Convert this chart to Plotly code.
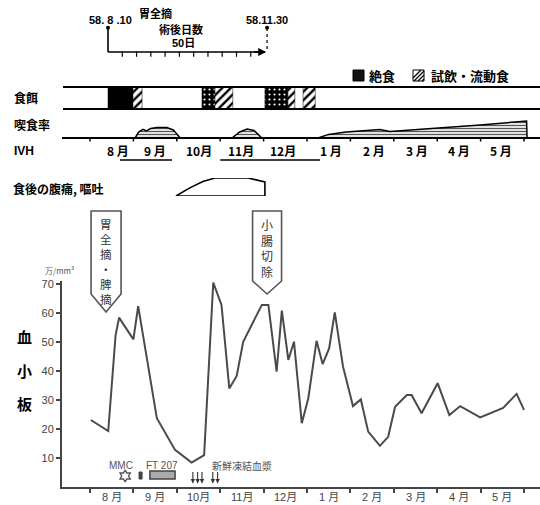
import plotly.graph_objects as go

# ---------------- data (x in months since 1 Aug 1983) ----------------
month_labels_main = ["8 月", "9 月", "10月", "11月", "12月", "1 月", "2 月", "3 月", "4 月", "5 月"]
month_labels_top = ["8 月", "9 月", "10月", "11月", "12月", "1 月", "2 月", "3 月", "4 月", "5 月"]

plt_x = [0.02, 0.42, 0.59, 0.67, 1.00, 1.11, 1.54, 1.96, 2.34, 2.63, 2.84, 3.03, 3.21, 3.38, 3.53,
         3.96, 4.11, 4.30, 4.42, 4.57, 4.70, 4.88, 5.03, 5.22, 5.36, 5.51, 5.64, 5.83, 6.06, 6.24,
         6.41, 6.68, 6.87, 7.03, 7.30, 7.41, 7.64, 8.01, 8.28, 8.53, 8.99, 9.52, 9.83, 10.0]
plt_y = [23.1, 19.3, 52.4, 58.4, 50.9, 62.4, 23.7, 12.8, 8.4, 11.0, 70.5, 62.8, 34.0, 38.3, 50.1,
         62.8, 62.8, 39.8, 60.8, 43.8, 50.1, 22.0, 30.6, 50.4, 42.4, 47.8, 60.2, 41.5, 27.9, 30.2,
         19.1, 14.2, 17.3, 27.7, 31.7, 31.7, 25.4, 35.8, 24.8, 27.9, 24.0, 27.3, 32.1, 26.6]

# intake rate (relative %)
intake1_x = [1.04, 1.12, 1.22, 1.30, 1.40, 1.54, 1.77, 1.92, 2.08]
intake1_y = [0, 30, 43, 35, 48, 52, 52, 40, 0]
intake2_x = [3.27, 3.45, 3.62, 3.78, 3.96]
intake2_y = [0, 30, 45, 38, 0]
intake3_x = [5.25, 5.50, 5.90, 6.30, 6.68, 6.91, 7.83, 8.99, 10.06, 10.07]
intake3_y = [0, 18, 30, 37, 42, 33, 47, 65, 85, 0]

# diet periods (start, end)
fast_solid = [(0.415, 0.99)]
fast_speckle = [(2.58, 2.88), (4.03, 4.56)]
liquid = [(0.99, 1.20), (2.88, 3.29), (4.56, 4.72), (4.91, 5.19)]

# IVH periods
ivh = [(0.69, 1.89), (3.00, 5.30)]

# post-prandial pain / vomiting (relative intensity)
sym_x = [1.98, 2.30, 2.60, 2.88, 3.64, 4.03, 4.03, 1.98]
sym_y = [0, 0.45, 0.8, 1.0, 1.0, 0.78, 0, 0]

# events
surgery_tips = [0.37, 4.08]
mmc_x = [0.81]
ft207_dot = (1.13, 1.20)
ft207_bar = (1.38, 1.96)
plasma_x = [2.37, 2.48, 2.58, 2.83, 2.94]
header_start, header_end = 0.415, 4.08

# ---------------- geometry helpers (layout only) ----------------
W, H = 540, 505
def PX(px):
    return px / W
def PY(py):
    return (H - py) / H
def MX(px):
    return (px - 90) / 43.4

FONT = "Liberation Sans, Noto Sans CJK JP, sans-serif"
JP = "Noto Sans CJK JP, sans-serif"
GRAY = "#444"

fig = go.Figure()

# main platelet line
fig.add_trace(go.Scatter(x=plt_x, y=plt_y, mode="lines",
                         line=dict(color="#4a4a4a", width=2), xaxis="x", yaxis="y",
                         showlegend=False, hoverinfo="skip"))

# intake rate areas
for ix, iy in [(intake1_x, intake1_y), (intake2_x, intake2_y), (intake3_x, intake3_y)]:
    fig.add_trace(go.Scatter(x=ix, y=iy, mode="lines", fill="tozeroy",
                             fillpattern=dict(shape="-", fgcolor="#555", bgcolor="white",
                                              size=3, solidity=0.45),
                             line=dict(color="black", width=1.5), xaxis="x", yaxis="y2",
                             showlegend=False, hoverinfo="skip"))

# diet bar segments
def rect_trace(x0, x1, pattern, fill):
    return go.Scatter(x=[x0, x1, x1, x0, x0], y=[0, 0, 1, 1, 0], mode="lines", fill="toself",
                      fillcolor=fill, fillpattern=pattern,
                      line=dict(color="black", width=0.5), xaxis="x", yaxis="y3",
                      showlegend=False, hoverinfo="skip")

for a, b in fast_solid:
    fig.add_trace(rect_trace(a, b, None, "black"))
for a, b in fast_speckle:
    fig.add_trace(rect_trace(a, b, dict(shape=".", fgcolor="white", bgcolor="black",
                                        size=5, solidity=0.15), None))
for a, b in liquid:
    fig.add_trace(rect_trace(a, b, dict(shape="/", fgcolor="black", bgcolor="white",
                                        size=6, solidity=0.4), None))

# symptom outline
fig.add_trace(go.Scatter(x=sym_x, y=sym_y, mode="lines", line=dict(color="black", width=1.6),
                         xaxis="x", yaxis="y4", showlegend=False, hoverinfo="skip"))

# MMC star marker
fig.add_trace(go.Scatter(x=mmc_x, y=[(487 - 476) / 2.9], mode="markers",
                         marker=dict(symbol="hexagram-open", size=9, color="#555",
                                     line=dict(width=1.4, color="#555")),
                         xaxis="x", yaxis="y", showlegend=False, hoverinfo="skip",
                         cliponaxis=False))

shapes = []
annotations = []

# diet bar borders
for py in (87, 109):
    shapes.append(dict(type="line", xref="paper", yref="paper", x0=PX(63), x1=PX(540),
                       y0=PY(py), y1=PY(py), line=dict(color="black", width=2)))
# intake baseline + ticks
shapes.append(dict(type="line", xref="paper", yref="paper", x0=PX(62), x1=PX(540),
                   y0=PY(138), y1=PY(138), line=dict(color="black", width=2)))
for m in range(11):
    shapes.append(dict(type="line", xref="x", yref="paper", x0=m, x1=m,
                       y0=PY(138), y1=PY(141.5), line=dict(color="black", width=1.5)))
# IVH underlines
for a, b in ivh:
    shapes.append(dict(type="line", xref="x", yref="paper", x0=a, x1=b,
                       y0=PY(160), y1=PY(160), line=dict(color="black", width=1.6)))

# surgery call-out boxes
def callout(tip_x, half_w_px, top_py, side_py, tip_py):
    hw = half_w_px / 43.4
    xs = [tip_x - hw, tip_x + hw, tip_x + hw, tip_x, tip_x - hw]
    ys = [top_py, top_py, side_py, tip_py, side_py]
    path = "M " + " L ".join(f"{x},{PY(y)}" for x, y in zip(xs, ys)) + " Z"
    return dict(type="path", xref="x", yref="paper", path=path,
                line=dict(color="#555", width=1.6), fillcolor="rgba(0,0,0,0)")

shapes.append(callout(surgery_tips[0], 15, 211, 294, 312))
shapes.append(callout(surgery_tips[1], 14.5, 211, 281, 294))

# FT207 dot and bar
shapes.append(dict(type="rect", xref="x", yref="y", x0=ft207_dot[0], x1=ft207_dot[1],
                   y0=(487 - 479) / 2.9, y1=(487 - 472) / 2.9,
                   line=dict(color="#444", width=1), fillcolor="#444"))
shapes.append(dict(type="rect", xref="x", yref="y", x0=ft207_bar[0], x1=ft207_bar[1],
                   y0=(487 - 479) / 2.9, y1=(487 - 471) / 2.9,
                   line=dict(color="#444", width=1.5), fillcolor="#aaa"))

# header arrow
shapes.append(dict(type="line", xref="x", yref="paper", x0=header_start, x1=header_start,
                   y0=PY(28), y1=PY(52), line=dict(color="black", width=1.6)))
shapes.append(dict(type="line", xref="x", yref="paper", x0=header_start, x1=header_end - 0.05,
                   y0=PY(52), y1=PY(52), line=dict(color="black", width=1.6)))
shapes.append(dict(type="line", xref="x", yref="paper", x0=header_end, x1=header_end,
                   y0=PY(28), y1=PY(52), line=dict(color="black", width=1.2, dash="dot")))
annotations.append(dict(x=header_end - 0.02, y=PY(52), ax=-14, ay=0,
                        xref="x", yref="paper", text="",
                        showarrow=True, arrowhead=2, arrowsize=1, arrowwidth=1.6,
                        arrowcolor="black"))
# 10-day ticks along header line
tick_x = [header_start + k * (10 / 30.4) for k in range(1, 11)]
fig.add_trace(go.Scatter(x=tick_x, y=[0] * len(tick_x), mode="markers",
                         marker=dict(symbol="line-ns-open", size=4, color="black",
                                     line=dict(width=1.2, color="black")),
                         xaxis="x", yaxis="y5", showlegend=False, hoverinfo="skip",
                         cliponaxis=False))
fig.add_trace(go.Scatter(x=[header_start, header_end], y=[1, 1], mode="markers",
                         marker=dict(symbol="circle", size=4, color="black"),
                         xaxis="x", yaxis="y5", showlegend=False, hoverinfo="skip",
                         cliponaxis=False))

# plasma transfusion arrows
for px_ in plasma_x:
    annotations.append(dict(x=px_, y=1.2, ax=0, ay=-13, xref="x", yref="y", text="",
                            showarrow=True, arrowhead=2, arrowsize=0.8, arrowwidth=1.1,
                            arrowcolor="#333"))

# legend boxes (top right)
shapes.append(dict(type="rect", xref="paper", yref="paper", x0=PX(353), x1=PX(364),
                   y0=PY(81), y1=PY(70), line=dict(color="black", width=1), fillcolor="#111"))
shapes.append(dict(type="rect", xref="paper", yref="paper", x0=PX(413), x1=PX(424),
                   y0=PY(81), y1=PY(70), line=dict(color="black", width=1), fillcolor="white"))
for k in range(4):
    x0 = 413 + k * 4 - 3
    xa = max(413, x0)
    xb = min(424, x0 + 11)
    shapes.append(dict(type="line", xref="paper", yref="paper",
                       x0=PX(xa), y0=PY(81 - (xa - x0)),
                       x1=PX(xb), y1=PY(81 - (xb - x0)),
                       line=dict(color="black", width=1.2)))

def txt(x, y, s, size=12, bold=True, color="black", anchor="center", family=JP):
    annotations.append(dict(x=PX(x), y=PY(y), xref="paper", yref="paper", showarrow=False,
                            text=f"<b>{s}</b>" if bold else s, xanchor=anchor, yanchor="middle",
                            font=dict(size=size, color=color, family=family)))

# header texts
txt(110, 20, "58. 8 .10", 11, True, family=FONT)
txt(155, 13, "胃全摘", 11)
txt(181, 29, "術後日数", 11)
txt(183, 43, "50日", 11, True, family=FONT)
txt(267, 20, "58.11.30", 11, True, family=FONT)
txt(367, 75, "絶食", 13, anchor="left")
txt(429, 75, "試飲・流動食", 13, anchor="left")

# row labels
txt(12, 98, "食餌", 12, anchor="left")
txt(12, 124, "喫食率", 12, anchor="left")
txt(12, 151, "IVH", 12, True, anchor="left", family=FONT)
txt(11, 188, "食後の腹痛, 嘔吐", 12, anchor="left")
top_centers = [118, 155, 199, 241, 283, 331, 374, 417, 459, 501]
for c, lab in zip(top_centers, month_labels_top):
    txt(c, 150, lab, 12)

# main month labels (between month ticks)
for m, lab in enumerate(month_labels_main):
    annotations.append(dict(x=m + 0.5, y=PY(497), xref="x", yref="paper", showarrow=False,
                            text=lab, xanchor="center", yanchor="middle",
                            font=dict(size=11, color="#444", family=FONT)))

# platelet axis labels
txt(43, 270, "万/mm³", 8, False, color="#555", anchor="left")
for yy, ch in zip([337, 370, 403], ["血", "小", "板"]):
    txt(24, yy, ch, 15)

# call-out box texts (vertical writing)
annotations.append(dict(x=surgery_tips[0], y=PY(214), xref="x", yref="paper", showarrow=False,
                        text="胃<br>全<br>摘<br>・<br>脾<br>摘", xanchor="center", yanchor="top",
                        font=dict(size=11.5, color="#333", family=JP)))
annotations.append(dict(x=surgery_tips[1], y=PY(214), xref="x", yref="paper", showarrow=False,
                        text="小<br>腸<br>切<br>除", xanchor="center", yanchor="top",
                        font=dict(size=12, color="#333", family=JP)))

# treatment labels
txt(121, 465, "MMC", 10, False, color="#555", family=FONT)
txt(162, 465, "FT 207", 10, False, color="#555", family=FONT)
txt(242, 465, "新鮮凍結血漿", 10, False, color="#555")

xr = [MX(62), MX(540)]
fig.update_layout(
    width=W, height=H, template="none",
    margin=dict(l=0, r=0, t=0, b=0, autoexpand=False),
    paper_bgcolor="white", plot_bgcolor="rgba(0,0,0,0)",
    font=dict(family=FONT, color="black"),
    showlegend=False,
    xaxis=dict(domain=[PX(62), 1.0], range=xr, showgrid=False, zeroline=False,
               showline=True, linecolor=GRAY, linewidth=2, anchor="y",
               tickmode="array", tickvals=list(range(11)), showticklabels=False,
               ticks="outside", ticklen=4, tickwidth=1.5, tickcolor=GRAY,
               automargin=False, fixedrange=True),
    yaxis=dict(domain=[PY(487), PY(281)], range=[0, 206 / 2.9], showgrid=False,
               zeroline=False, showline=True, linecolor=GRAY, linewidth=2, anchor="x",
               tickmode="array", tickvals=[10, 20, 30, 40, 50, 60, 70], ticks="outside",
               ticklen=4, tickwidth=1.5, tickcolor=GRAY,
               tickfont=dict(size=11, color="#444", family=FONT), automargin=False,
               fixedrange=True),
    yaxis2=dict(domain=[PY(138), PY(118)], range=[0, 100], visible=False, anchor="x",
                fixedrange=True),
    yaxis3=dict(domain=[PY(109), PY(87)], range=[0, 1], visible=False, anchor="x",
                fixedrange=True),
    yaxis4=dict(domain=[PY(196), PY(178)], range=[0, 1], visible=False, anchor="x",
                fixedrange=True),
    yaxis5=dict(domain=[PY(54), PY(26)], range=[0, 1.07], visible=False, anchor="x",
                fixedrange=True),
    shapes=shapes, annotations=annotations,
)

fig.write_html("out.html", config={"displayModeBar": False},
               post_script="document.body.style.margin='0';document.body.style.overflow='hidden';")
